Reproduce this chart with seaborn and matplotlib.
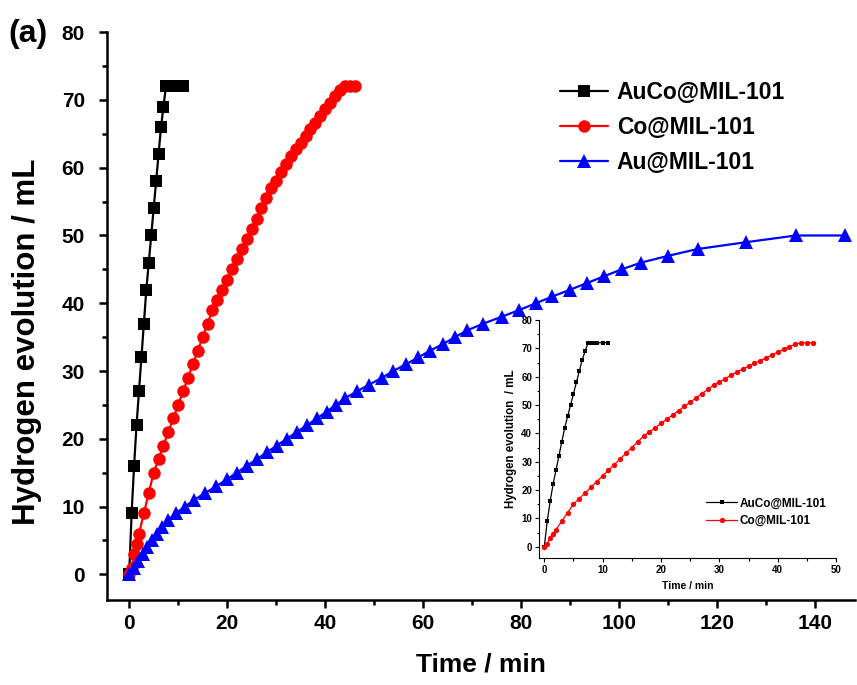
import matplotlib
matplotlib.use("Agg")
import matplotlib.pyplot as plt
from matplotlib.ticker import MultipleLocator
import numpy as np
import pandas as pd
import seaborn as sns

# ---------------- data ----------------
auco_t = [0, 0.5, 1, 1.5, 2, 2.5, 3, 3.5, 4, 4.5, 5, 5.5, 6, 6.5, 7, 7.5, 8, 8.5, 9, 10, 11]
auco_v = [0, 9, 16, 22, 27, 32, 37, 42, 46, 50, 54, 58, 62, 66, 69, 72, 72, 72, 72, 72, 72]

co_t = [0, 0.5, 1, 1.5, 2, 3, 4, 5, 6, 7, 8, 9, 10, 11, 12, 13, 14, 15, 16, 17, 18, 19, 20,
        21, 22, 23, 24, 25, 26, 27, 28, 29, 30, 31, 32, 33, 34, 35, 36, 37, 38, 39, 40,
        41, 42, 43, 44, 45, 46]
co_v = [0, 1, 3, 4.5, 6, 9, 12, 15, 17, 19, 21, 23, 25, 27, 29, 31, 33, 35, 37, 39, 40.5,
        42, 43.5, 45, 46.5, 48, 49.5, 51, 52.5, 54, 55.5, 57, 58, 59.3, 60.5, 61.7, 62.7,
        63.7, 64.7, 65.7, 66.6, 67.7, 68.6, 69.6, 70.6, 71.4, 72, 72, 72]

au_t = [0, 0.9, 1.8, 2.8, 3.7, 4.7, 5.7, 6.8, 7.9, 9.5, 11.4, 13.3, 15.5, 17.8, 19.9,
        22.0, 24.0, 26.1, 28.1, 30.1, 32.2, 34.2, 36.3, 38.3, 40.3, 42.2, 44.1, 46.5,
        49.0, 51.6, 53.9, 56.5, 59.0, 61.4, 64.1, 66.5, 69.0, 72.3, 76.0, 79.6, 83.0,
        86.4, 90.0, 93.5, 97.0, 100.5, 104.5, 110.0, 116.0, 125.8, 136.1, 146.1]
au_v = [0, 1, 2, 3, 4, 5, 6, 7, 8, 9, 10, 11, 12, 13, 14, 15, 16, 17, 18, 19, 20, 21, 22,
        23, 24, 25, 26, 27, 28, 29, 30, 31, 32, 33, 34, 35, 36, 37, 38, 39, 40, 41, 42,
        43, 44, 45, 46, 47, 48, 49, 50, 50]

labels = ["AuCo@MIL-101", "Co@MIL-101", "Au@MIL-101"]
x_ticks = [0, 20, 40, 60, 80, 100, 120, 140]
y_ticks = [0, 10, 20, 30, 40, 50, 60, 70, 80]
inset_x_ticks = [0, 10, 20, 30, 40, 50]
inset_y_ticks = [0, 10, 20, 30, 40, 50, 60, 70, 80]

# ---------------- style ----------------
sns.set_style("ticks")
plt.rcParams['font.family'] = ['Liberation Sans', 'DejaVu Sans']
plt.rcParams['font.weight'] = 'bold'
plt.rcParams['axes.labelweight'] = 'bold'
for k in ['text.color', 'axes.labelcolor', 'xtick.color', 'ytick.color', 'axes.edgecolor']:
    plt.rcParams[k] = 'black'

fig = plt.figure(figsize=(8.57, 6.85), dpi=100)
ax = fig.add_axes([0.125, 0.124, 0.873, 0.829])

sns.lineplot(x=auco_t, y=auco_v, ax=ax, color='black', marker='s', markersize=8,
             markeredgewidth=0, linewidth=1.6, estimator=None, sort=False, label=labels[0])
sns.lineplot(x=co_t, y=co_v, ax=ax, color='#ff0000', marker='o', markersize=9,
             markeredgewidth=0, linewidth=1.6, estimator=None, sort=False, label=labels[1])
sns.lineplot(x=au_t, y=au_v, ax=ax, color='#0000ff', marker='^', markersize=10,
             markeredgewidth=0, linewidth=1.6, estimator=None, sort=False, label=labels[2])

ax.set_xlim(-4.5, 148.2)
ax.set_ylim(-3.8, 80)
ax.set_xticks(x_ticks)
ax.set_yticks(y_ticks)
ax.xaxis.set_minor_locator(MultipleLocator(10))
ax.yaxis.set_minor_locator(MultipleLocator(5))
ax.tick_params(which='major', direction='out', length=6, width=1.8, labelsize=15)
ax.tick_params(axis='y', which='major', pad=10)
ax.tick_params(axis='x', which='major', pad=4)
ax.tick_params(which='minor', direction='out', length=3.5, width=1.8)
for lab in ax.get_xticklabels() + ax.get_yticklabels():
    lab.set_fontweight('bold')
for s in ['top', 'right']:
    ax.spines[s].set_visible(False)
for s in ['left', 'bottom']:
    ax.spines[s].set_linewidth(1.8)
ax.set_xlabel("Time / min", fontsize=19, fontweight='bold', labelpad=14)
ax.set_ylabel("Hydrogen evolution / mL", fontsize=22.5, fontweight='bold')
ax.yaxis.set_label_coords(-0.087, 0.454)

leg = ax.legend(loc='upper left', bbox_to_anchor=(0.653, 0.882),
                bbox_transform=fig.transFigure, frameon=False, borderpad=0,
                borderaxespad=0, fontsize=16.5, handlelength=2.1, labelspacing=0.52,
                handletextpad=0.4)
for t in leg.get_texts():
    t.set_fontweight('bold')

fig.text(0.010, 0.950, "(a)", fontsize=23, fontweight='bold', va='center')

# ---------------- inset ----------------
ins = fig.add_axes([0.629, 0.1854, 0.3466, 0.3474])
sns.lineplot(x=auco_t, y=auco_v, ax=ins, color='black', marker='s', markersize=3.5,
             markeredgewidth=0, linewidth=0.9, estimator=None, sort=False, label=labels[0])
sns.lineplot(x=co_t, y=co_v, ax=ins, color='#ff0000', marker='o', markersize=3.8,
             markeredgewidth=0, linewidth=0.9, estimator=None, sort=False, label=labels[1])
ins.set_xlim(-0.9, 50)
ins.set_ylim(-4, 80)
ins.set_xticks(inset_x_ticks)
ins.set_yticks(inset_y_ticks)
ins.xaxis.set_minor_locator(MultipleLocator(5))
ins.yaxis.set_minor_locator(MultipleLocator(5))
ins.tick_params(which='major', direction='out', length=3, width=0.8, labelsize=7, pad=2)
ins.tick_params(which='minor', direction='out', length=1.8, width=0.8)
for lab in ins.get_xticklabels() + ins.get_yticklabels():
    lab.set_fontweight('bold')
for s in ['top', 'right']:
    ins.spines[s].set_visible(False)
for s in ['left', 'bottom']:
    ins.spines[s].set_linewidth(0.8)
ins.patch.set_alpha(0)
ins.set_xlabel("Time / min", fontsize=7.5, fontweight='bold', labelpad=4)
ins.set_ylabel("Hydrogen evolution  / mL", fontsize=8.3, fontweight='bold', labelpad=3)
ileg = ins.legend(loc='center left', bbox_to_anchor=(0.824, 0.2525),
                  bbox_transform=fig.transFigure, frameon=False, borderpad=0,
                  borderaxespad=0, fontsize=8.5, handlelength=2.6, labelspacing=0.45,
                  handletextpad=0.2)
for t in ileg.get_texts():
    t.set_fontweight('bold')

fig.savefig("out.png", dpi=100)
